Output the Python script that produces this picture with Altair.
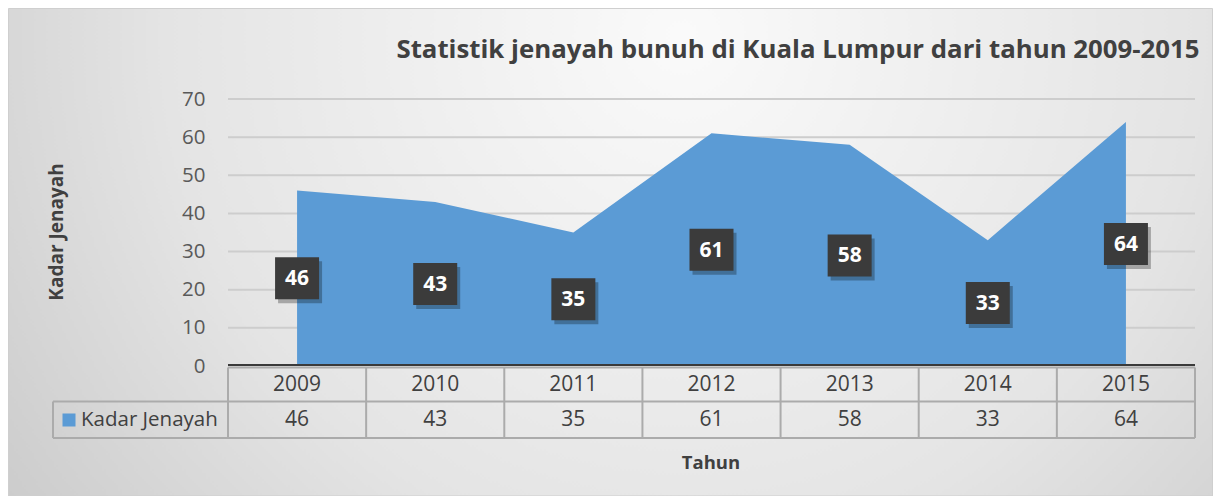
import altair as alt
import pandas as pd

years = [2009, 2010, 2011, 2012, 2013, 2014, 2015]
kadar = [46, 43, 35, 61, 58, 33, 64]
y_ticks = [0, 10, 20, 30, 40, 50, 60, 70]
title_text = "Statistik jenayah bunuh di Kuala Lumpur dari tahun 2009-2015"
y_title = "Kadar Jenayah"
x_title = "Tahun"
series_name = "Kadar Jenayah"

W, H = 967, 267
PAD = {"left": 220, "top": 91, "right": 18, "bottom": 130}
FONT = "Open Sans"
TXT = "#404040"
BLUE = "#5b9bd5"

df = pd.DataFrame({"year": years, "kadar": kadar})
df["half"] = df["kadar"] / 2
df["year_label"] = df["year"].astype(str)
df["val_label"] = df["kadar"].astype(str)

bounds = pd.DataFrame({"edge": [y - 0.5 for y in years] + [years[-1] + 0.5]})
grid = pd.DataFrame({"t": y_ticks[1:]})

xs = alt.Scale(domain=[years[0] - 0.5, years[-1] + 0.5], nice=False, zero=False)
ys = alt.Scale(domain=[0, 70], nice=False)
y_axis = alt.Axis(values=y_ticks, title=None, ticks=False, domain=False, grid=False,
                  labelFont=FONT, labelFontSize=20.5, labelColor="#595959",
                  labelPadding=23, zindex=1)

one = alt.Data(values=[{"a": 1}])

bg = alt.Chart(one).mark_rect(
    fill=alt.Gradient(
        gradient="radial",
        stops=[alt.GradientStop(color="#fafafa", offset=0),
               alt.GradientStop(color="#e4e4e4", offset=0.55),
               alt.GradientStop(color="#c2c2c2", offset=1)],
        x1=0.56, y1=0.32, r1=0, x2=0.56, y2=0.32, r2=0.78),
    stroke="#cfcfcf", strokeWidth=1,
).encode(x=alt.value(-PAD["left"] + 0.5), x2=alt.value(W + PAD["right"] - 0.5),
         y=alt.value(-PAD["top"] + 0.5), y2=alt.value(H + PAD["bottom"]))

gridlines = alt.Chart(grid).mark_rule(color="#cdcdcd", strokeWidth=2).encode(
    y=alt.Y("t:Q", scale=ys, axis=y_axis), x=alt.value(0), x2=alt.value(W))

area = alt.Chart(df).mark_area(color=BLUE, opacity=1).encode(
    x=alt.X("year:Q", scale=xs, axis=None),
    y=alt.Y("kadar:Q", scale=ys, axis=y_axis),
)

box_path = "M-1,-0.955L1,-0.955L1,0.955L-1,0.955Z"
shadow = alt.Chart(df).mark_point(shape=box_path, size=1936, filled=True, color="#000000",
                                  opacity=0.28, xOffset=3, yOffset=4).encode(
    x=alt.X("year:Q", scale=xs, axis=None), y=alt.Y("half:Q", scale=ys, axis=y_axis))
boxes = alt.Chart(df).mark_point(shape=box_path, size=1936, filled=True, color="#3b3b3b",
                                 opacity=1).encode(
    x=alt.X("year:Q", scale=xs, axis=None), y=alt.Y("half:Q", scale=ys, axis=y_axis))
box_text = alt.Chart(df).mark_text(font=FONT, fontSize=21, fontWeight="bold", color="white",
                                   baseline="middle", dy=1).encode(
    x=alt.X("year:Q", scale=xs, axis=None), y=alt.Y("half:Q", scale=ys, axis=y_axis),
    text="val_label:N")

# table structure
axis_line = alt.Chart(one).mark_rule(color="#3a3a3a", strokeWidth=2).encode(
    x=alt.value(0), x2=alt.value(W), y=alt.value(H - 1))
hlines_df = pd.DataFrame({"y": [H + 1.5, H + 35.5, H + 72], "x0": [0, -175, -175]})
hlines = alt.Chart(hlines_df).mark_rule(color="#ababab", strokeWidth=2).encode(
    x=alt.X("x0:Q", scale=None), x2=alt.value(W), y=alt.Y("y:Q", scale=None))
vlines = alt.Chart(bounds).mark_rule(color="#ababab", strokeWidth=2).encode(
    x=alt.X("edge:Q", scale=xs, axis=None), y=alt.value(H + 1.5), y2=alt.value(H + 72))
legend_left = alt.Chart(one).mark_rule(color="#ababab", strokeWidth=2).encode(
    x=alt.value(-175), y=alt.value(H + 35.5), y2=alt.value(H + 72))

year_text = alt.Chart(df).mark_text(font=FONT, fontSize=21, color=TXT, baseline="middle").encode(
    x=alt.X("year:Q", scale=xs, axis=None), y=alt.value(H + 18.5), text="year_label:N")
val_text = alt.Chart(df).mark_text(font=FONT, fontSize=21, color=TXT, baseline="middle").encode(
    x=alt.X("year:Q", scale=xs, axis=None), y=alt.value(H + 54), text="val_label:N")

legend_sq = alt.Chart(one).mark_point(shape="square", size=169, filled=True, color=BLUE,
                                      opacity=1).encode(x=alt.value(-159), y=alt.value(H + 54))
legend_txt = alt.Chart(one).mark_text(font=FONT, fontSize=20.5, color=TXT, align="left",
                                      baseline="middle", text=series_name).encode(
    x=alt.value(-147), y=alt.value(H + 54))

title = alt.Chart(one).mark_text(font=FONT, fontSize=25.8, fontWeight="bold", color=TXT,
                                 baseline="middle", align="center", text=title_text).encode(
    x=alt.value(570), y=alt.value(-49))
ytitle = alt.Chart(one).mark_text(font=FONT, fontSize=19, fontWeight="bold", color=TXT,
                                  baseline="middle", align="center", angle=270,
                                  text=y_title).encode(x=alt.value(-171), y=alt.value(133))
xtitle = alt.Chart(one).mark_text(font=FONT, fontSize=18.5, fontWeight="bold", color=TXT,
                                  baseline="middle", align="center", text=x_title).encode(
    x=alt.value(483), y=alt.value(H + 97))

chart = alt.layer(
    bg, gridlines, area, shadow, boxes, box_text,
    axis_line, hlines, vlines, legend_left, year_text, val_text, legend_sq, legend_txt,
    title, ytitle, xtitle,
).properties(
    width=W, height=H, padding=PAD, autosize=alt.AutoSizeParams(type="none"),
    background="white",
).configure_view(stroke=None)

chart.save("out.html", embed_options={"renderer": "svg", "actions": False})
